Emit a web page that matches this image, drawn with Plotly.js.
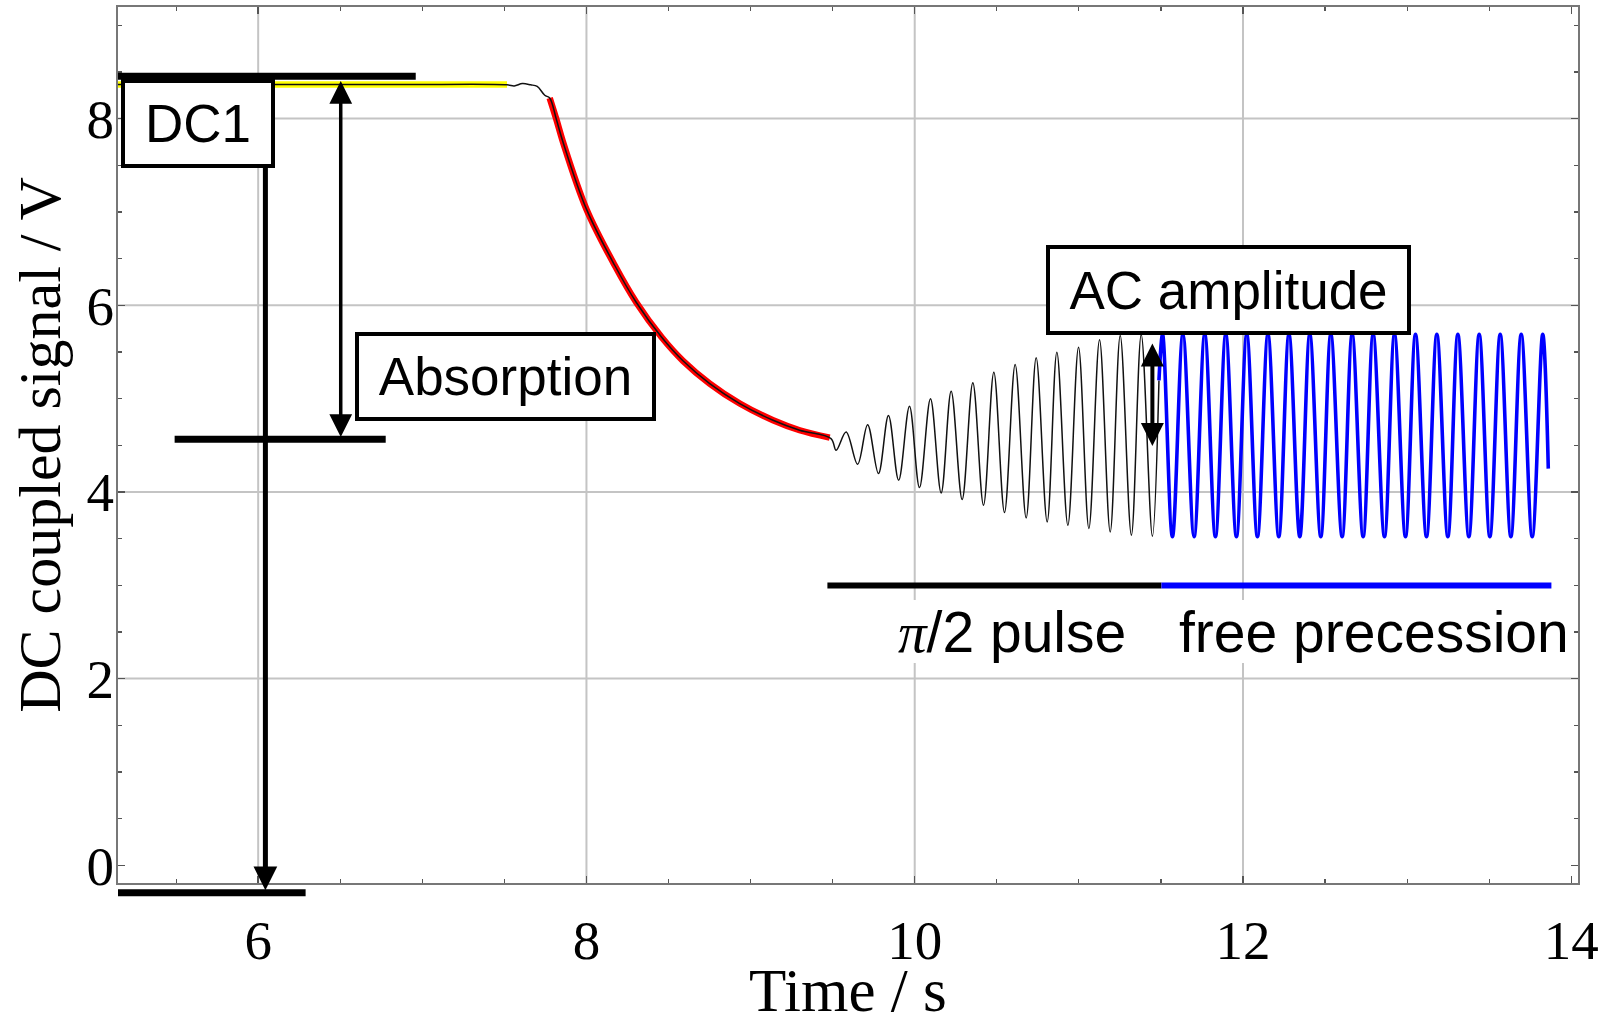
<!DOCTYPE html>
<html>
<head>
<meta charset="utf-8">
<script src="https://cdn.plot.ly/plotly-3.0.1.min.js"></script>
<style>
html, body { margin: 0; padding: 0; background: #fff; }
#chart { width: 1610px; height: 1025px; }
</style>
</head>
<body>
<div id="chart"></div>
<script>
// ---------------- data ----------------
const xTickVals = [6, 8, 10, 12, 14];
const xTickText = ['6', '8', '10', '12', '14'];
const yTickVals = [0, 2, 4, 6, 8];
const yTickText = ['0', '2', '4', '6', '8'];
const xGridVals = [6, 8, 10, 12];
const yGridVals = [2, 4, 6, 8];
const xRange = [5.146, 14.041];
const yRange = [-0.19, 9.196];
const xTitle = 'Time / s';
const yTitle = 'DC coupled signal / V';

// raw DC coupled signal (thin black)
const signalX = [5.146, 5.70, 6.30, 6.90, 7.516, 7.560, 7.610, 7.660, 7.700, 7.746, 7.776,
  7.817, 7.857, 8.000, 8.172, 8.304, 8.457, 8.588, 8.751, 8.934, 9.137, 9.299, 9.490,
  9.521, 9.582, 9.652, 9.713, 9.779, 9.840, 9.902, 9.968, 10.029, 10.096, 10.161, 10.222,
  10.289, 10.354, 10.419, 10.482, 10.547, 10.612, 10.679, 10.740, 10.807, 10.866, 10.933,
  10.998, 11.061, 11.126, 11.191, 11.252, 11.320, 11.380, 11.448, 11.488];
const signalY = [8.365, 8.365, 8.365, 8.365, 8.362, 8.350, 8.375, 8.362, 8.345, 8.250, 8.221,
  7.990, 7.750, 7.030, 6.429, 6.030, 5.660, 5.405, 5.161, 4.947, 4.768, 4.661, 4.571,
  4.446, 4.642, 4.296, 4.721, 4.197, 4.820, 4.125, 4.917, 4.047, 4.999, 3.989, 5.080,
  3.919, 5.170, 3.858, 5.283, 3.780, 5.366, 3.722, 5.437, 3.679, 5.497, 3.644,
  5.551, 3.609, 5.630, 3.572, 5.676, 3.537, 5.687, 3.526, 5.195];

// DC1 level (yellow)
const dcX = [5.146, 7.516];
const dcY = [8.365, 8.365];

// absorption decay (red)
const decayX = [7.776, 7.817, 7.857, 8.000, 8.172, 8.304, 8.457, 8.588, 8.751, 8.934, 9.137, 9.299, 9.482];
const decayY = [8.221, 7.990, 7.750, 7.030, 6.429, 6.030, 5.660, 5.405, 5.161, 4.947, 4.768, 4.661, 4.582];

// free precession (blue)
const precX = [11.488, 11.510, 11.570, 11.634, 11.702, 11.767, 11.832, 11.895, 11.960, 12.023,
  12.088, 12.152, 12.218, 12.280, 12.346, 12.407, 12.474, 12.535, 12.604, 12.665, 12.732,
  12.793, 12.862, 12.923, 12.990, 13.051, 13.118, 13.181, 13.248, 13.309, 13.376, 13.439,
  13.504, 13.567, 13.632, 13.695, 13.762, 13.826, 13.860];
const precY = [5.195, 5.69, 3.52, 5.69, 3.52, 5.69, 3.52, 5.69, 3.52, 5.69,
  3.52, 5.69, 3.52, 5.69, 3.52, 5.69, 3.52, 5.69, 3.52, 5.69, 3.52,
  5.69, 3.52, 5.69, 3.52, 5.69, 3.52, 5.69, 3.52, 5.69, 3.52, 5.69,
  3.52, 5.69, 3.52, 5.69, 3.52, 5.69, 4.25];

// annotation levels / positions (data units)
const dcBar = {x0: 5.126, x1: 6.960, y: 8.454};
const absBar = {x0: 5.491, x1: 6.777, y: 4.564};
const zeroBar = {x0: 5.121, x1: 6.289, y: -0.295};
const pulseBar = {x0: 9.468, xm: 11.503, x1: 13.879, y: 2.997};
const absArrow = {x: 6.503, y0: 8.418, y1: 4.589};
const dcArrow = {x: 6.044, yTip: -0.268};
const acArrow = {x: 11.448, y0: 5.607, y1: 4.493};

// ---------------- chart ----------------
const toPaperY = v => (v - yRange[0]) / (yRange[1] - yRange[0]);

const traces = [
  {x: dcX, y: dcY, mode: 'lines', line: {color: '#ffff00', width: 6.5}, hoverinfo: 'skip'},
  {x: decayX, y: decayY, mode: 'lines', line: {color: '#ff0000', width: 6.5, shape: 'spline'}, hoverinfo: 'skip'},
  {x: signalX, y: signalY, mode: 'lines', line: {color: '#111111', width: 1.5, shape: 'spline', smoothing: 1}, hoverinfo: 'skip'},
  {x: precX, y: precY, mode: 'lines', line: {color: '#0000ff', width: 3.6, shape: 'spline', smoothing: 1}, hoverinfo: 'skip'}
];

const serif = 'Liberation Serif, Times New Roman, serif';
const tickFont = {family: serif, size: 55, color: '#000'};
const boxFont = {family: 'Liberation Sans, Arial, sans-serif', size: 53, color: '#000'};
const axisCommon = {
  showline: true, linecolor: '#777', linewidth: 2, mirror: 'allticks',
  ticks: 'inside', ticklen: 7, tickwidth: 1.5, tickcolor: '#555',
  showgrid: false, zeroline: false,
  tickfont: tickFont, tickmode: 'array',
  minor: {tickmode: 'linear', tick0: 0, dtick: 0.5, ticks: 'inside', ticklen: 4, tickwidth: 1.2, tickcolor: '#555', showgrid: false}
};

function box(text, x, y, w, h) {
  return {xref: 'x', yref: 'y', x: x, y: y, text: text, showarrow: false,
    xanchor: 'center', yanchor: 'middle', width: w, height: h,
    bgcolor: '#fff', bordercolor: '#000', borderwidth: 4, borderpad: 0,
    font: boxFont, align: 'center', valign: 'middle'};
}
function label(text, x, y) {
  return {xref: 'x', yref: 'y', x: x, y: y, text: text, showarrow: false,
    xanchor: 'center', yanchor: 'middle', height: 63,
    bgcolor: '#fff', borderwidth: 0, borderpad: 0,
    font: {family: 'Liberation Sans, Arial, sans-serif', size: 57, color: '#000'}};
}
function hbar(b, color, yref) {
  return {type: 'line', xref: 'x', yref: yref || 'y', x0: b.x0, x1: b.x1,
    y0: yref === 'paper' ? toPaperY(b.y) : b.y, y1: yref === 'paper' ? toPaperY(b.y) : b.y,
    line: {color: color, width: 7}, layer: 'above'};
}

const gridShapes = []
  .concat(xGridVals.map(v => ({type: 'line', xref: 'x', yref: 'paper', x0: v, x1: v, y0: 0, y1: 1,
    line: {color: '#c4c4c4', width: 2}, layer: 'below'})))
  .concat(yGridVals.map(v => ({type: 'line', xref: 'paper', yref: 'y', x0: 0, x1: 1, y0: v, y1: v,
    line: {color: '#c4c4c4', width: 2}, layer: 'below'})));

const layout = {
  width: 1610, height: 1025,
  margin: {l: 118, r: 32, t: 7, b: 142, pad: 0},
  paper_bgcolor: '#fff', plot_bgcolor: '#fff',
  showlegend: false,
  xaxis: Object.assign({}, axisCommon, {
    range: xRange, tickvals: xTickVals, ticktext: xTickText, ticklabelstandoff: 8
  }),
  yaxis: Object.assign({}, axisCommon, {
    range: yRange, tickvals: yTickVals, ticktext: yTickText, ticklabelstandoff: -9,
    title: {text: yTitle, font: {family: serif, size: 60, color: '#000'}, standoff: 7}
  }),
  shapes: gridShapes.concat([
    hbar(dcBar, '#000'),
    hbar(absBar, '#000'),
    hbar(zeroBar, '#000', 'paper'),
    {type: 'line', xref: 'x', yref: 'y', x0: pulseBar.x0, x1: pulseBar.xm, y0: pulseBar.y, y1: pulseBar.y,
      line: {color: '#000', width: 6}, layer: 'above'},
    {type: 'line', xref: 'x', yref: 'y', x0: pulseBar.xm, x1: pulseBar.x1, y0: pulseBar.y, y1: pulseBar.y,
      line: {color: '#0000ff', width: 6}, layer: 'above'}
  ]),
  annotations: [
    // x axis title
    {xref: 'paper', yref: 'paper', x: 0.5, y: -0.1622, xanchor: 'center', yanchor: 'bottom',
      text: xTitle, showarrow: false, borderpad: 0, font: {family: serif, size: 61, color: '#000'}},
    // DC1 arrow (down to zero level)
    {xref: 'x', yref: 'paper', x: dcArrow.x, y: toPaperY(dcArrow.yTip), axref: 'pixel', ayref: 'pixel',
      ax: 0, ay: -735, text: '', showarrow: true, arrowhead: 2, arrowsize: 0.95, arrowwidth: 5,
      arrowcolor: '#000', standoff: 0},
    // absorption double arrow
    {xref: 'x', yref: 'y', axref: 'x', ayref: 'y', x: absArrow.x, y: absArrow.y1, ax: absArrow.x, ay: absArrow.y0,
      text: '', showarrow: true, arrowside: 'end+start', arrowhead: 2, startarrowhead: 2,
      arrowsize: 1.3, startarrowsize: 1.3, arrowwidth: 3.5, arrowcolor: '#000', standoff: 0, startstandoff: 0},
    // AC amplitude double arrow
    {xref: 'x', yref: 'y', axref: 'x', ayref: 'y', x: acArrow.x, y: acArrow.y1, ax: acArrow.x, ay: acArrow.y0,
      text: '', showarrow: true, arrowside: 'end+start', arrowhead: 2, startarrowhead: 2,
      arrowsize: 1.15, startarrowsize: 1.15, arrowwidth: 4, arrowcolor: '#000', standoff: 0, startstandoff: 0},
    box('DC1', 5.635, 7.943, 146, 81),
    box('Absorption', 7.504, 5.237, 293, 81),
    box('AC amplitude', 11.912, 6.169, 357, 82),
    label('<span style="font-family:Liberation Serif"><i>π</i></span>/2 pulse', 10.594, 2.50),
    label('free precession', 12.800, 2.50)
  ]
};

Plotly.newPlot('chart', traces, layout, {staticPlot: true, displayModeBar: false});
</script>
</body>
</html>
